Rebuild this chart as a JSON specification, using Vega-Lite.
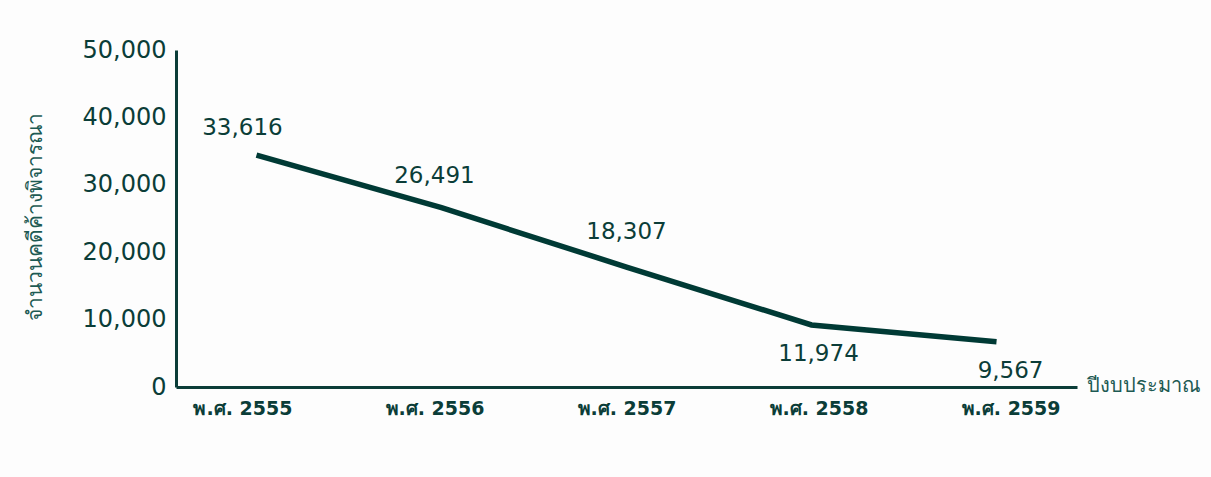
{
  "$schema": "https://vega.github.io/schema/vega-lite/v6.json",
  "width": 901,
  "height": 337,
  "autosize": {"type": "none"},
  "padding": {"left": 176, "top": 50, "right": 134, "bottom": 90},
  "background": "#fdfdfd",
  "config": {
    "view": {"stroke": null},
    "font": "DejaVu Sans",
    "axis": {"grid": false, "ticks": false, "domainColor": "#0b3d38", "domainWidth": 3, "labelColor": "#0b3d38", "labelFont": "DejaVu Sans"}
  },
  "data": {
    "values": [
      {"year": "พ.ศ. 2555", "drawn": 34400, "label": 33616},
      {"year": "พ.ศ. 2556", "drawn": 26600, "label": 26491},
      {"year": "พ.ศ. 2557", "drawn": 17800, "label": 18307},
      {"year": "พ.ศ. 2558", "drawn": 9200, "label": 11974},
      {"year": "พ.ศ. 2559", "drawn": 6700, "label": 9567}
    ]
  },
  "layer": [
    {
      "layer": [
        {
          "mark": {"type": "text", "opacity": 0},
          "encoding": {
            "x": {
              "field": "year", "type": "ordinal", "sort": null,
              "scale": {"type": "point", "padding": 0.346},
              "axis": {
                "title": "ปีงบประมาณ",
                "titleFont": "DejaVu Sans",
                "titleFontSize": 20,
                "titleFontWeight": "normal",
                "titleColor": "#1d5a53",
                "titleAngle": 0,
                "titleAlign": "left",
                "titleBaseline": "middle",
                "titleX": 910,
                "titleY": -2,
                "labelFontSize": 19,
                "labelFontWeight": "bold",
                "labelPadding": 12,
                "labelAngle": 0
              }
            },
            "y": {
              "field": "label", "type": "quantitative",
              "title": "จำนวนคดีค้างพิจารณา",
              "scale": {"domain": [0, 50000]},
              "axis": {
                "title": "จำนวนคดีค้างพิจารณา",
                "titleFont": "DejaVu Sans",
                "titleFontSize": 21,
                "titleFontWeight": "normal",
                "titleColor": "#1d5a53",
                "titleAngle": 270,
                "titleAlign": "center",
                "titleBaseline": "middle",
                "titleX": -141,
                "titleY": 166,
                "tickCount": 5,
                "format": ",d",
                "labelFontSize": 24,
                "labelPadding": 10
              }
            },
            "text": {"value": ""}
          }
        },
        {
          "transform": [{"filter": "datum.label > 15000"}],
          "mark": {"type": "text", "fontSize": 23, "color": "#0b3d38", "dy": -32, "baseline": "middle"},
          "encoding": {
            "x": {"field": "year", "type": "ordinal", "sort": null},
            "y": {"field": "label", "type": "quantitative", "title": "จำนวนคดีค้างพิจารณา"},
            "text": {"field": "label", "type": "quantitative", "format": ",d"}
          }
        },
        {
          "transform": [{"filter": "datum.label < 15000"}],
          "mark": {"type": "text", "fontSize": 23, "color": "#0b3d38", "dy": 48, "baseline": "middle"},
          "encoding": {
            "x": {"field": "year", "type": "ordinal", "sort": null},
            "y": {"field": "label", "type": "quantitative", "title": "จำนวนคดีค้างพิจารณา"},
            "text": {"field": "label", "type": "quantitative", "format": ",d"}
          }
        }
      ]
    },
    {
      "mark": {"type": "line", "color": "#003a35", "strokeWidth": 5.5},
      "encoding": {
        "x": {"field": "year", "type": "ordinal", "sort": null, "scale": {"type": "point", "padding": 0.435}, "axis": null},
        "y": {"field": "drawn", "type": "quantitative", "title": "จำนวนคดีค้างพิจารณา"}
      }
    }
  ],
  "resolve": {"scale": {"x": "independent"}}
}
